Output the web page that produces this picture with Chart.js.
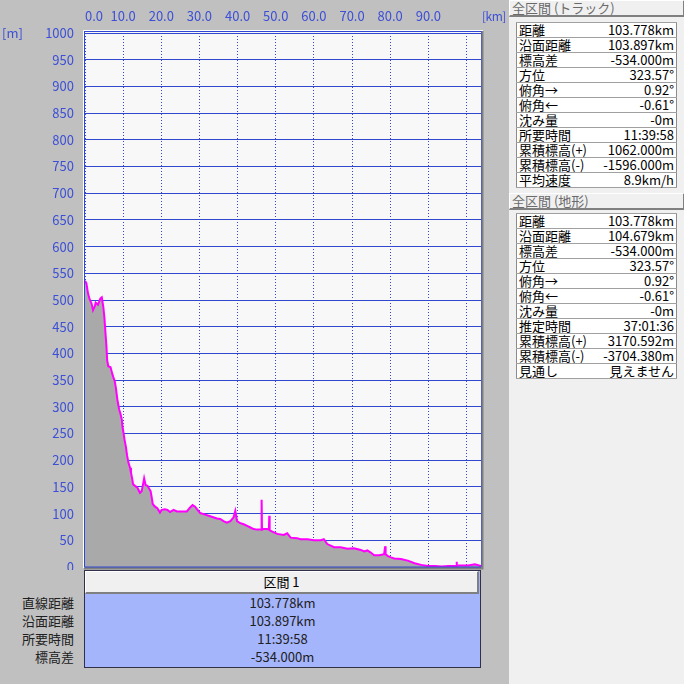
<!DOCTYPE html>
<html><head><meta charset="utf-8">
<script src="https://cdn.jsdelivr.net/npm/chart.js@4.4.1/dist/chart.umd.min.js"></script>
<style>
html,body{margin:0;padding:0;}
body{width:684px;height:684px;background:#c0c0c0;position:relative;overflow:hidden;font-family:"Noto Sans CJK JP",sans-serif;}
#c{position:absolute;left:0;top:0;}
.ax{position:absolute;color:#3c4fd6;font-size:13px;line-height:14px;white-space:nowrap;z-index:3;}
.panel{position:absolute;left:509px;top:0;width:175px;height:684px;background:#f0f0f0;}
.btn{position:absolute;left:0;width:171px;height:14px;background:#f0f0f0;border-top:1px solid #fff;border-left:1px solid #fff;border-right:2px solid #808080;border-bottom:2px solid #808080;color:#6a6a6a;font-size:13px;line-height:14px;padding-left:2px;white-space:nowrap;}
table.info{position:absolute;left:7px;border-collapse:collapse;width:161px;font-size:13px;background:#fff;border:1px solid #8c8c8c;}
table.info td{border-top:1px solid #a0a0a0;border-bottom:1px solid #a0a0a0;height:14px;line-height:14px;padding:0 2px;white-space:nowrap;color:#000;}
table.info td.v{text-align:right;}
.sec{position:absolute;left:84px;top:570px;width:395px;height:96px;border:1px solid #303048;background:#a5b5fc;}
.sech{position:absolute;left:0;top:0;width:391px;height:20px;background:#f0f0f0;border-top:1px solid #fff;border-left:1px solid #fff;border-right:2px solid #808080;border-bottom:2px solid #808080;text-align:center;font-size:13px;line-height:20px;color:#000;}
.row{position:absolute;height:18px;line-height:18px;font-size:13px;color:#202020;white-space:nowrap;}
</style></head>
<body>
<canvas id="c" width="508" height="570"></canvas>
<div class="panel">
  <div class="btn" style="top:0;">全区間 (トラック)</div>
  <table class="info" id="t1" style="top:22px;"></table>
  <div class="btn" style="top:193px;">全区間 (地形)</div>
  <table class="info" id="t2" style="top:213px;"></table>
</div>
<div class="ax" style="left:2px;top:26px;">[m]</div>
<div class="ax" style="left:482px;top:9px;font-size:12px;letter-spacing:-0.5px;">[km]</div>
<div class="sec" id="sec"><div class="sech" id="sech"></div></div>
<div id="secLabels"></div>
<script>
// ---- data ----
const kmPts = [0,0.37,0.8,1.23,1.7,2.1,2.55,2.8,3.4,4.05,4.4,4.8,5.1,5.4,5.65,5.8,6.1,6.7,7.1,7.4,7.8,8.1,8.5,8.95,9.3,9.65,9.8,10.1,10.35,10.7,11.05,11.4,11.8,12.05,12.4,12.6,13.1,13.7,14.4,14.85,15.3,15.5,15.9,16.4,16.85,17.2,17.5,17.75,18.35,18.95,19.65,20.1,20.95,21.6,22.3,23.2,24.1,24.9,26.7,27.5,28.2,28.85,29.4,30.2,31.1,32.8,34.6,35.45,36.3,37.2,38.1,38.95,39.4,39.85,40.7,41.6,42.5,43.35,44.2,45.1,46.2,46.3,46.4,46.85,47.75,48.2,48.3,48.4,48.6,49.5,50.4,52.1,53.0,53.9,55.6,56.5,58.3,60.0,61.8,62.6,63.5,64.4,65.3,67.0,68.8,70.5,72.3,73.2,74.0,74.9,75.8,77.1,78.4,78.6,78.7,78.8,79.3,80.2,81.1,82.8,84.6,86.4,88.1,89.9,91.7,93.5,95.2,97.3,97.4,97.5,98.7,100.4,102.2,103.8];
const elevM = [536,531,512,501,494,481,488,495,491,503,505,487,466,435,410,388,376,374,363,356,348,335,313,295,287,276,264,251,239,226,208,195,186,177,164,155,152,149,139,142,158,166,153,152,146,142,130,118,113,110,102,107,108,107,103,107,104,104,104,111,116,113,108,101,99,95,91,90,86,83,86,93,105,86,82,80,77,74,71,70,70,126,70,71,71,70,96,69,68,65,62,60,63,55,54,52,52,50,50,52,43,40,37,37,34,35,32,29,31,27,22,22,24,24,39,24,21,18,16,15,12,7,4,2,2,1,2,2,10,3,3,3,5,2];
const xTicks = [0,10,20,30,40,50,60,70,80,90,100];
const xTickLabels = ['0.0','10.0','20.0','30.0','40.0','50.0','60.0','70.0','80.0','90.0',''];

const trackLabels = ['距離','沿面距離','標高差','方位','俯角→','俯角←','沈み量','所要時間','累積標高(+)','累積標高(-)','平均速度'];
const trackValues = ['103.778km','103.897km','-534.000m','323.57°','0.92°','-0.61°','-0m','11:39:58','1062.000m','-1596.000m','8.9km/h'];
const terrainLabels = ['距離','沿面距離','標高差','方位','俯角→','俯角←','沈み量','推定時間','累積標高(+)','累積標高(-)','見通し'];
const terrainValues = ['103.778km','104.679km','-534.000m','323.57°','0.92°','-0.61°','-0m','37:01:36','3170.592m','-3704.380m','見えません'];
const sectionTitle = '区間 1';
const sectionLabels = ['直線距離','沿面距離','所要時間','標高差'];
const sectionValues = ['103.778km','103.897km','11:39:58','-534.000m'];

// ---- tables ----
function fillTable(id, labels, values){
  const t = document.getElementById(id);
  labels.forEach((l,i)=>{
    const tr = document.createElement('tr');
    const a = document.createElement('td'); a.textContent = l;
    const b = document.createElement('td'); b.className='v'; b.textContent = values[i];
    tr.appendChild(a); tr.appendChild(b); t.appendChild(tr);
  });
}
fillTable('t1', trackLabels, trackValues);
fillTable('t2', terrainLabels, terrainValues);
document.getElementById('sech').textContent = sectionTitle;
const sec = document.getElementById('sec');
const secL = document.getElementById('secLabels');
sectionValues.forEach((v,i)=>{
  const d = document.createElement('div'); d.className='row';
  d.style.left='0'; d.style.width='395px'; d.style.textAlign='center'; d.style.top=(23+i*18)+'px';
  d.textContent = v; sec.appendChild(d);
  const l = document.createElement('div'); l.className='row';
  l.style.left='0'; l.style.width='74px'; l.style.textAlign='right'; l.style.top=(594+i*18)+'px';
  l.textContent = sectionLabels[i]; secL.appendChild(l);
});

// ---- chart ----
const BLUE = '#3048d0';
const TXT = '#3c4fd6';
const frame = {
  id:'frame',
  beforeDraw(chart){
    const {ctx, chartArea:a} = chart;
    ctx.save();
    ctx.fillStyle = '#f8f8f8';
    ctx.fillRect(a.left, a.top-2, a.right-a.left, a.bottom-a.top+2);
    ctx.restore();
  },
  afterDraw(chart){
    const {ctx, chartArea:a} = chart;
    ctx.save();
    ctx.lineWidth = 1;
    ctx.strokeStyle = '#ffffff';
    ctx.beginPath();
    ctx.moveTo(a.left-1.5, a.bottom+1); ctx.lineTo(a.left-1.5, a.top-2.5); ctx.lineTo(a.right+2, a.top-2.5);
    ctx.stroke();
    ctx.strokeStyle = BLUE;
    ctx.strokeRect(a.left-0.5, a.top-1.5, a.right-a.left+1, a.bottom-a.top+1.5);
    ctx.strokeStyle = '#808080';
    ctx.lineWidth = 2;
    ctx.beginPath();
    ctx.moveTo(a.right+1.5, a.top-2); ctx.lineTo(a.right+1.5, a.bottom+1.5); ctx.lineTo(a.left-1, a.bottom+1.5);
    ctx.stroke();
    ctx.restore();
  }
};

Chart.defaults.font.family = '"Noto Sans CJK JP", sans-serif';
new Chart(document.getElementById('c'), {
  type:'line',
  plugins:[frame],
  data:{
    datasets:[{
      data: kmPts.map((k,i)=>({x:k, y:elevM[i]})),
      borderColor:'#ff00ff',
      borderWidth:2,
      backgroundColor:'#a9a9a9',
      fill:'origin',
      pointRadius:0,
      tension:0
    }]
  },
  options:{
    responsive:false,
    animation:false,
    devicePixelRatio:1,
    layout:{padding:{left:0, right:27, top:0, bottom:3}},
    plugins:{legend:{display:false}, tooltip:{enabled:false}},
    scales:{
      x:{
        type:'linear', position:'top', min:0, max:103.8, z:1,
        afterBuildTicks(s){ s.ticks = xTicks.map(v=>({value:v})); },
        afterFit(s){ s.height = 33; s.paddingLeft = 0; s.paddingRight = 0; },
        ticks:{color:TXT, font:{size:13}, padding:9, maxRotation:0, autoSkip:false, align:'inner',
          callback:(v)=>{ const i = xTicks.indexOf(v); return i>=0 ? xTickLabels[i] : ''; }},
        grid:{color:BLUE, lineWidth:1, drawTicks:false},
        border:{display:false, dash:[1,2]}
      },
      y:{
        min:0, max:1000, z:1,
        afterFit(s){ s.width = 85; s.paddingTop = 0; s.paddingBottom = 0; },
        ticks:{color:TXT, font:{size:13}, stepSize:50, padding:11, autoSkip:false,
          callback:(v)=>String(v)},
        grid:{color:BLUE, lineWidth:1, drawTicks:false},
        border:{display:false}
      }
    }
  }
});
</script>
</body></html>
